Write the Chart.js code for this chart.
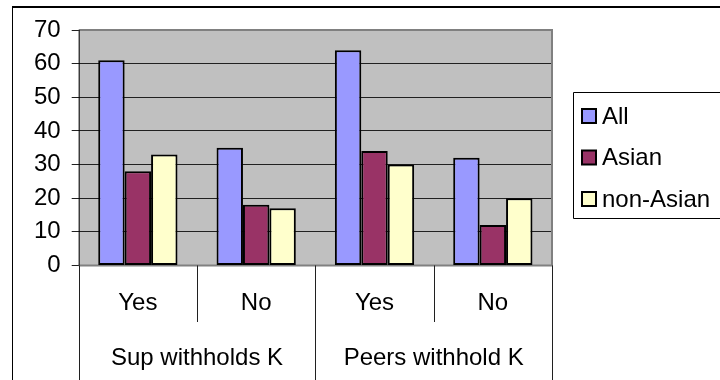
<!DOCTYPE html>
<html>
<head>
<meta charset="utf-8">
<script src="https://cdn.jsdelivr.net/npm/chart.js@4/dist/chart.umd.min.js"></script>
<style>
  html, body { margin: 0; padding: 0; background: #ffffff; }
  #wrap { width: 720px; height: 380px; position: relative; }
</style>
</head>
<body>
<div id="wrap"><canvas id="chart" width="720" height="380"></canvas></div>
<script>
// Answers per question, split by respondent group
const categories = ['Yes', 'No', 'Yes', 'No'];
const groups = ['Sup withholds K', 'Peers withhold K'];
const seriesNames = ['All', 'Asian', 'non-Asian'];
const valuesAll = [61, 35, 64, 32];
const valuesAsian = [28, 18, 34, 12];
const valuesNonAsian = [33, 17, 30, 20];
const yMin = 0, yMax = 70, yStep = 10;

const FONT = '"Liberation Sans", Arial, sans-serif';
const fills = ['#9999FF', '#993366', '#FFFFCC'];

// Plot background, frame, category separators and the boxed legend
const decorations = {
  id: 'decorations',
  beforeDraw(chart) {
    const {ctx, chartArea: a} = chart;
    ctx.save();
    ctx.fillStyle = '#C0C0C0';
    ctx.fillRect(a.left, a.top, a.right - a.left, a.bottom - a.top);
    ctx.restore();
  },
  beforeDatasetsDraw(chart) {
    const {ctx, chartArea: a} = chart;
    ctx.save();
    ctx.strokeStyle = '#808080';
    ctx.lineWidth = 2;
    ctx.beginPath();
    ctx.moveTo(a.left, a.top);
    ctx.lineTo(a.right, a.top);
    ctx.lineTo(a.right, a.bottom);
    ctx.lineTo(a.left, a.bottom);
    ctx.stroke();
    ctx.strokeStyle = '#000000';
    ctx.lineWidth = 1;
    ctx.beginPath();
    ctx.moveTo(a.left + 0.5, a.top);
    ctx.lineTo(a.left + 0.5, a.bottom);
    ctx.stroke();
    ctx.restore();
  },
  afterDraw(chart) {
    const {ctx, chartArea: a} = chart;
    const x = chart.scales.x;
    ctx.save();

    // outer frame of the sheet
    ctx.strokeStyle = '#000000';
    ctx.lineWidth = 2;
    ctx.beginPath();
    ctx.moveTo(12, 7);
    ctx.lineTo(720, 7);
    ctx.stroke();
    ctx.lineWidth = 1;
    ctx.beginPath();
    ctx.moveTo(12.5, 7);
    ctx.lineTo(12.5, 380);
    ctx.stroke();

    // separators between answers and between questions
    const half = (x.getPixelForValue(1) - x.getPixelForValue(0)) / 2;
    ctx.strokeStyle = '#202020';
    ctx.lineWidth = 1;
    for (let i = 0; i <= categories.length; i++) {
      const px = Math.round(x.getPixelForValue(i) - half) + 0.5;
      const end = (i % 2 === 0) ? 380 : 322;
      ctx.beginPath();
      ctx.moveTo(px, a.bottom);
      ctx.lineTo(px, end);
      ctx.stroke();
    }

    // legend
    const lx = 573.5, ly = 92.5, lh = 126;
    ctx.strokeStyle = '#000000';
    ctx.lineWidth = 1;
    ctx.beginPath();
    ctx.moveTo(725, ly);
    ctx.lineTo(lx, ly);
    ctx.lineTo(lx, ly + lh);
    ctx.lineTo(725, ly + lh);
    ctx.stroke();
    ctx.font = '24px ' + FONT;
    ctx.textBaseline = 'middle';
    ctx.textAlign = 'left';
    chart.data.datasets.forEach((ds, i) => {
      const cy = 116 + i * 41.5;
      ctx.fillStyle = ds.backgroundColor;
      ctx.fillRect(582, cy - 7, 14, 14);
      ctx.lineWidth = 2;
      ctx.strokeStyle = '#000000';
      ctx.strokeRect(582, cy - 7, 14, 14);
      ctx.fillStyle = '#000000';
      ctx.fillText(ds.label, 602, cy + 1);
    });
    ctx.restore();
  }
};

const datasets = [valuesAll, valuesAsian, valuesNonAsian].map((vals, i) => ({
  label: seriesNames[i],
  data: vals,
  backgroundColor: fills[i],
  borderColor: '#000000',
  borderWidth: 2,
  borderSkipped: false,
  barPercentage: 1.0,
  categoryPercentage: 0.67
}));

new Chart(document.getElementById('chart'), {
  type: 'bar',
  data: { labels: categories, datasets },
  options: {
    responsive: false,
    animation: false,
    devicePixelRatio: 1,
    layout: { padding: { top: 30, left: 23, right: 168, bottom: 5 } },
    plugins: { legend: { display: false }, tooltip: { enabled: false } },
    scales: {
      x: {
        type: 'category',
        position: 'bottom',
        grid: { display: false, drawTicks: false },
        border: { display: false },
        ticks: { color: '#000000', font: { family: FONT, size: 24 }, padding: 24, maxRotation: 0, autoSkip: false }
      },
      xGroup: {
        type: 'category',
        position: 'bottom',
        labels: groups,
        offset: true,
        grid: { display: false, drawTicks: false },
        border: { display: false },
        ticks: { color: '#000000', font: { family: FONT, size: 24 }, padding: 2, maxRotation: 0, autoSkip: false }
      },
      y: {
        min: yMin,
        max: yMax,
        ticks: { stepSize: yStep, color: '#000000', font: { family: FONT, size: 24 }, padding: 11, autoSkip: false },
        grid: { color: '#202020', lineWidth: 1, tickLength: 7 },
        border: { display: false }
      }
    }
  },
  plugins: [decorations]
});
</script>
</body>
</html>
